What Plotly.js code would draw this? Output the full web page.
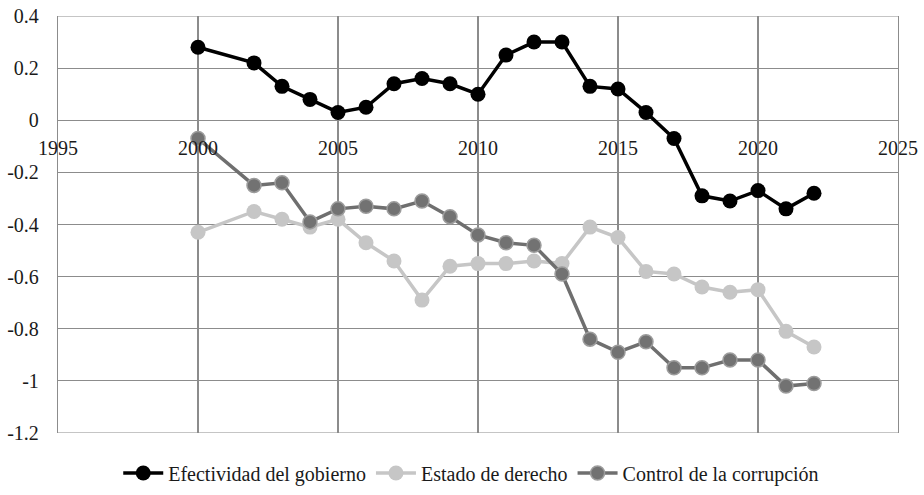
<!DOCTYPE html>
<html>
<head>
<meta charset="utf-8">
<script src="https://cdn.plot.ly/plotly-3.0.1.min.js"></script>
<style>html,body{margin:0;padding:0;background:#fff;font-family:'Liberation Serif',serif;}#chart{width:924px;height:495px;}</style>
</head>
<body>
<div id="chart"></div>
<script>
var years = [2000, 2002, 2003, 2004, 2005, 2006, 2007, 2008, 2009, 2010, 2011, 2012, 2013, 2014, 2015, 2016, 2017, 2018, 2019, 2020, 2021, 2022];
var efectividad = [0.28, 0.22, 0.13, 0.08, 0.03, 0.05, 0.14, 0.16, 0.14, 0.10, 0.25, 0.30, 0.30, 0.13, 0.12, 0.03, -0.07, -0.29, -0.31, -0.27, -0.34, -0.28];
var estado = [-0.43, -0.35, -0.38, -0.41, -0.38, -0.47, -0.54, -0.69, -0.56, -0.55, -0.55, -0.54, -0.55, -0.41, -0.45, -0.58, -0.59, -0.64, -0.66, -0.65, -0.81, -0.87];
var control = [-0.07, -0.25, -0.24, -0.39, -0.34, -0.33, -0.34, -0.31, -0.37, -0.44, -0.47, -0.48, -0.59, -0.84, -0.89, -0.85, -0.95, -0.95, -0.92, -0.92, -1.02, -1.01];
var seriesNames = ['Efectividad del gobierno', 'Estado de derecho', 'Control de la corrupción'];
var xTicks = [1995, 2000, 2005, 2010, 2015, 2020, 2025];
var yTicks = [0.4, 0.2, 0, -0.2, -0.4, -0.6, -0.8, -1, -1.2];
var yTickText = ['0.4', '0.2', '0', '-0.2', '-0.4', '-0.6', '-0.8', '-1', '-1.2'];

var grid = '#8c8c8c';

var traces = [
  {x: years, y: efectividad, name: seriesNames[0], mode: 'lines+markers',
   line: {color: '#000000', width: 3.5},
   marker: {color: '#000000', size: 15}},
  {x: years, y: estado, name: seriesNames[1], mode: 'lines+markers',
   line: {color: '#c6c6c6', width: 3.5},
   marker: {color: '#c6c6c6', size: 15}},
  {x: years, y: control, name: seriesNames[2], mode: 'lines+markers',
   line: {color: '#6f6f6f', width: 3.5},
   marker: {color: '#727272', size: 14, line: {color: '#9c9c9c', width: 1.5}}}
];

var layout = {
  width: 924, height: 495,
  margin: {l: 58, r: 26, t: 16, b: 62, pad: 0, autoexpand: false},
  font: {family: 'Liberation Serif', size: 20, color: '#1a1a1a'},
  showlegend: true,
  legend: {orientation: 'h', x: 0.51, xanchor: 'center', xref: 'container', yref: 'container', y: 0.005, yanchor: 'bottom',
           itemwidth: 40},
  xaxis: {range: [1995, 2025], tickvals: xTicks, ticktext: xTicks.map(String),
          anchor: 'free', position: 0.75, showgrid: true, gridcolor: grid, gridwidth: 1.2,
          zeroline: false, showline: false, ticks: '', ticklabelstandoff: 14},
  yaxis: {range: [-1.2, 0.4], tickvals: yTicks, ticktext: yTickText,
          showgrid: true, gridcolor: grid, gridwidth: 1.2, zeroline: false,
          showline: true, linecolor: grid, linewidth: 1.2, mirror: true, ticks: '',
          ticklabelstandoff: 14},
  shapes: [
    {type: 'line', xref: 'paper', yref: 'y', x0: 0, x1: 1, y0: 0.4, y1: 0.4, line: {color: grid, width: 1.2}},
    {type: 'line', xref: 'paper', yref: 'y', x0: 0, x1: 1, y0: -1.2, y1: -1.2, line: {color: grid, width: 1.2}}
  ]
};

Plotly.newPlot('chart', traces, layout, {staticPlot: true});
</script>
</body>
</html>
